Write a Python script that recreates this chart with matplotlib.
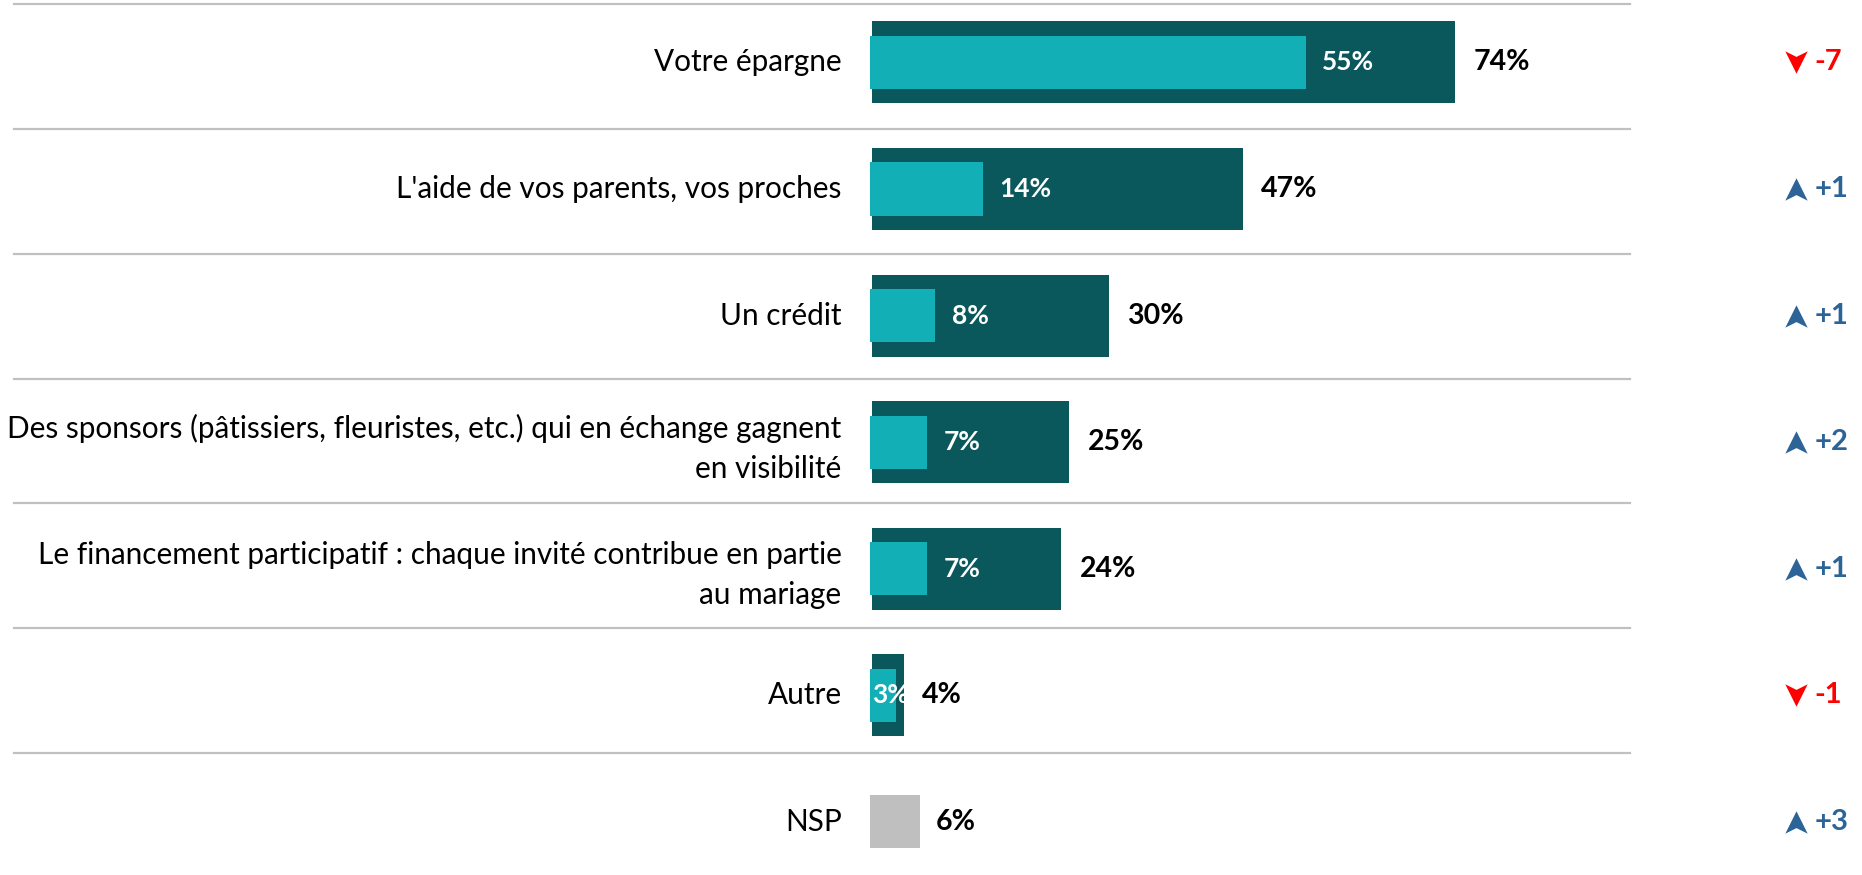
import numpy as np
import matplotlib
matplotlib.use("Agg")
import matplotlib.pyplot as plt
from matplotlib.path import Path

plt.rcParams['font.family'] = ['Lato', 'DejaVu Sans']

categories = ["Votre épargne",
              "L'aide de vos parents, vos proches",
              "Un crédit",
              "Des sponsors (pâtissiers, fleuristes, etc.) qui en échange gagnent\nen visibilité",
              "Le financement participatif : chaque invité contribue en partie\nau mariage",
              "Autre",
              "NSP"]
total = [74, 47, 30, 25, 24, 4]      # dark bars
first = [55, 14, 8, 7, 7, 3]         # light bars
nsp = 6
changes = [-7, 1, 1, 2, 1, -1, 3]

dark = '#0B585C'
light = '#13AFB6'
grey = '#BFBFBF'
blue = '#2C6497'
red = '#FF0000'

fig = plt.figure(figsize=(18.62, 8.75), dpi=100)
ax = fig.add_axes([0, 0, 1, 1])
ax.set_xlim(-110.7, 125.6)
ax.set_ylim(6.419, -0.493)
ax.axis('off')

y = np.arange(len(categories))

# separators
for s in np.arange(7) * 0.987 - 0.464:
    ax.plot([-108.9, 96.2], [s, s], color='#C0C0C0', lw=1.6, zorder=1)

ax.barh(y[:6], total, height=0.648, color=dark, zorder=2)
ax.barh(y[:6], np.array(first) + 0.3, left=-0.3, height=0.419, color=light, zorder=3)
ax.barh(y[6], nsp + 0.3, left=-0.3, height=0.419, color=grey, zorder=3)

for i, lab in enumerate(categories):
    ax.text(-3.9, y[i] + (0.05 if '\n' in lab else 0), lab, ha='right', va='center',
            fontsize=21.4, color='#000000', linespacing=1.55, multialignment='right')

for i in range(6):
    ax.text(total[i] + 2.3, y[i], f"{total[i]}%", ha='left', va='center',
            fontsize=20.5, fontweight='bold', color='black')
    xl = max(min(first[i] + 2.1, total[i] - 4.0), 0)
    ax.text(xl, y[i], f"{first[i]}%", ha='left', va='center',
            fontsize=19, fontweight='bold', color='white', zorder=4)
ax.text(nsp + 2.0, y[6], f"{nsp}%", ha='left', va='center',
        fontsize=20.5, fontweight='bold', color='black')

# trend chevrons
up = Path([(-1, -1), (0, 1), (1, -1), (0, -0.5), (-1, -1)],
          [Path.MOVETO, Path.LINETO, Path.LINETO, Path.LINETO, Path.CLOSEPOLY])
down = Path([(-1, 1), (0, -1), (1, 1), (0, 0.5), (-1, 1)],
            [Path.MOVETO, Path.LINETO, Path.LINETO, Path.LINETO, Path.CLOSEPOLY])
for i, c in enumerate(changes):
    col = blue if c > 0 else red
    ax.scatter(117.2, y[i], marker=up if c > 0 else down, s=260, color=col,
               linewidths=0, zorder=5)
    ax.text(119.6, y[i], f"{c:+d}", ha='left', va='center', fontsize=21,
            fontweight='bold', color=col)

fig.savefig('out.png', dpi=100)
